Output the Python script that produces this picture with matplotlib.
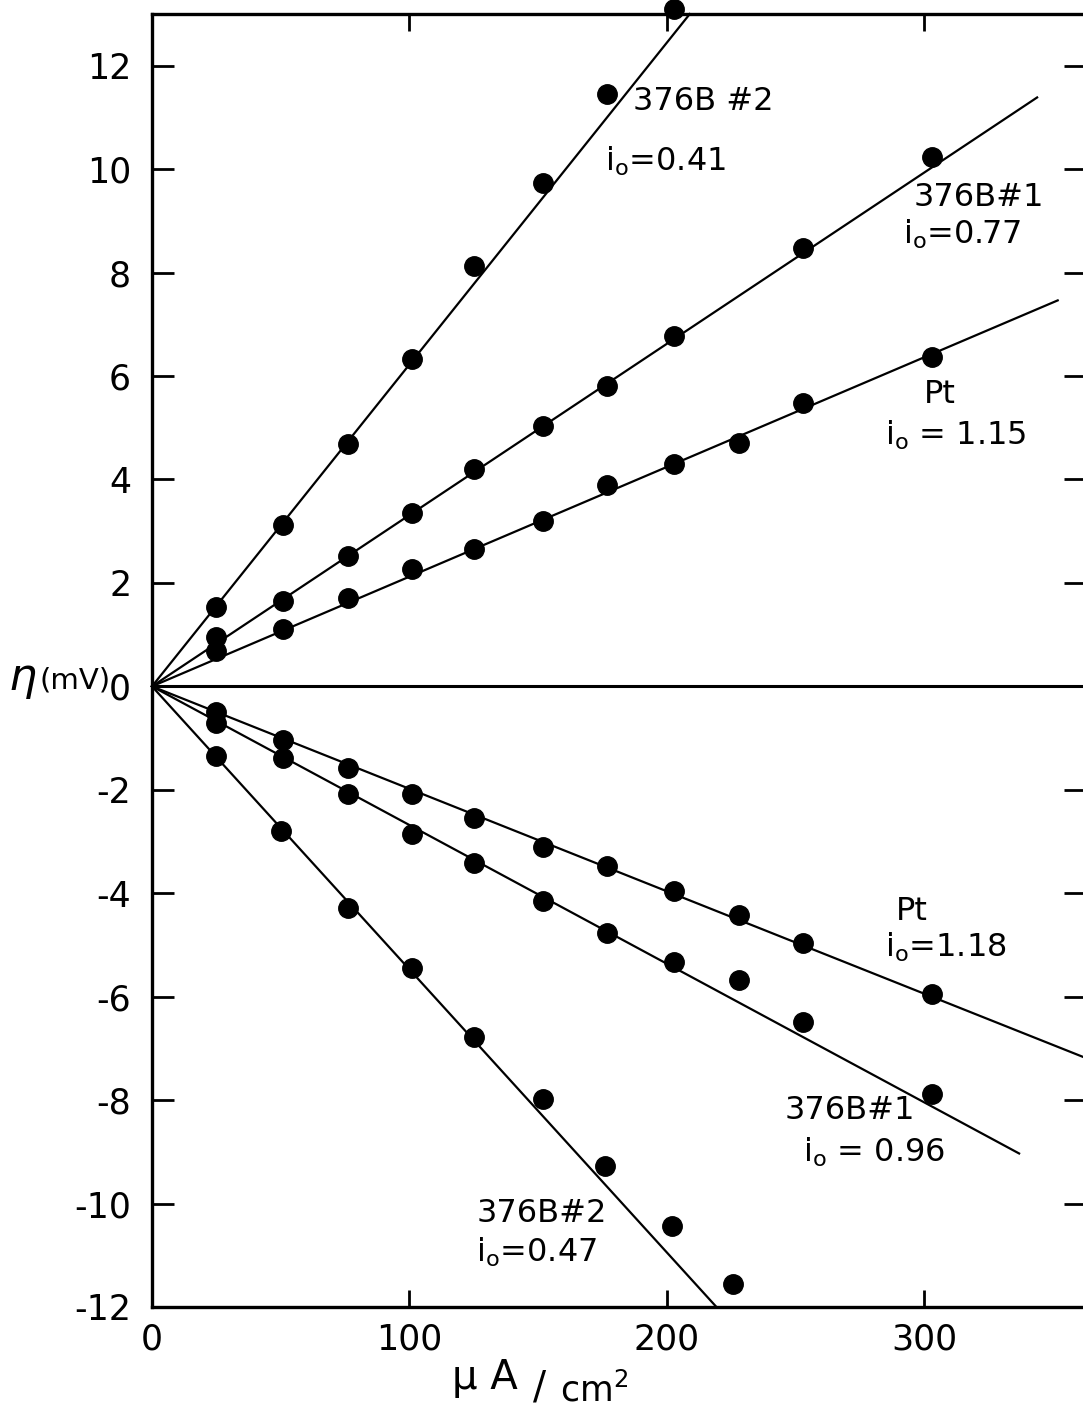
import numpy as np
import matplotlib.pyplot as plt

plt.rcParams['font.family'] = ['DejaVu Sans']
plt.rcParams['axes.unicode_minus'] = False
plt.rcParams['mathtext.default'] = 'regular'

# current density (uA/cm2), as plotted (points drift a little off the nominal steps)
x_std = [25, 51, 76, 101, 125, 152, 177, 203, 228, 253, 303]

# anodic (positive) overpotential, mV
up_b2_x = [25, 51, 76, 101, 125, 152, 177, 203]
up_b2_y = [1.53, 3.12, 4.68, 6.32, 8.12, 9.73, 11.45, 13.1]
up_b1_x = [25, 51, 76, 101, 125, 152, 177, 203, 253, 303]
up_b1_y = [0.95, 1.65, 2.52, 3.36, 4.2, 5.03, 5.81, 6.77, 8.47, 10.23]
up_pt_y = [0.68, 1.1, 1.7, 2.26, 2.65, 3.2, 3.9, 4.29, 4.7, 5.47, 6.36]

# cathodic (negative) overpotential, mV
lo_pt_y = [-0.5, -1.03, -1.57, -2.09, -2.55, -3.11, -3.47, -3.96, -4.43, -4.97, -5.94]
lo_b1_y = [-0.7, -1.38, -2.08, -2.86, -3.41, -4.15, -4.76, -5.33, -5.68, -6.48, -7.89]
lo_b2_x = [25, 50, 76, 101, 125, 152, 176, 202, 226]
lo_b2_y = [-1.35, -2.8, -4.28, -5.44, -6.77, -7.97, -9.28, -10.44, -11.55]

# fitted straight lines through the origin: slope (mV per uA/cm2) and end x
fit_slopes = [0.0622, 0.0331, 0.0212, -0.0198, -0.0268, -0.0547]
fit_xend = [209, 344, 352, 363, 337, 219]

labels = [
    ("376B #2", 187, 11.3), ("i$_o$=0.41", 176, 10.15),
    ("376B#1", 296, 9.45), ("i$_o$=0.77", 292, 8.75),
    ("Pt", 300, 5.65), ("i$_o$ = 1.15", 285, 4.85),
    ("Pt", 289, -4.35), ("i$_o$=1.18", 285, -5.05),
    ("376B#1", 246, -8.2), ("i$_o$ = 0.96", 253, -9.0),
    ("376B#2", 126, -10.2), ("i$_o$=0.47", 126, -10.95),
]

fig = plt.figure(figsize=(10.83, 14.12), dpi=100)
ax = fig.add_axes([152/1083, 105/1412, 934/1083, 1293/1412])

for s, xe in zip(fit_slopes, fit_xend):
    ax.plot([0, xe], [0, s * xe], color='black', lw=1.6, clip_on=False)

mk = dict(marker='o', ms=14, color='black', ls='none', clip_on=False)
ax.plot(up_b2_x, up_b2_y, **mk)
ax.plot(up_b1_x, up_b1_y, **mk)
ax.plot(x_std, up_pt_y, **mk)
ax.plot(x_std, lo_pt_y, **mk)
ax.plot(x_std, lo_b1_y, **mk)
ax.plot(lo_b2_x, lo_b2_y, **mk)

ax.axhline(0, color='black', lw=2.2)

for t, x, y in labels:
    ax.text(x, y, t, fontsize=23, ha='left', va='center')

ax.set_xlim(0, 363)
ax.set_ylim(-12, 13)
ax.set_xticks([0, 100, 200, 300])
ax.set_yticks(range(-12, 13, 2))
ax.tick_params(direction='in', top=True, right=True, width=2, labelsize=25)
ax.tick_params(axis='y', length=16, pad=15)
ax.tick_params(axis='x', length=12, pad=11)
for sp in ax.spines.values():
    sp.set_linewidth(2.4)

fig.text(8/1083, 1 - 690/1412, "η", fontsize=32, style='italic', va='baseline')
fig.text(40/1083, 1 - 689/1412, "(mV)", fontsize=21, va='baseline')
fig.text(452/1083, 1 - 1389/1412, "μ A", fontsize=29, va='baseline')
fig.text(533/1083, 1 - 1398/1412, "/", fontsize=28, va='baseline')
fig.text(560/1083, 1 - 1401/1412, "cm$^2$", fontsize=25, va='baseline')

fig.savefig('out.png', dpi=100)
